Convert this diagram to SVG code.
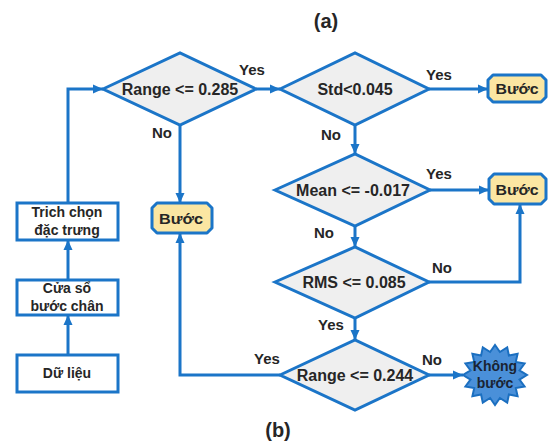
<svg xmlns="http://www.w3.org/2000/svg" width="549" height="443" viewBox="0 0 549 443">
<defs>
<marker id="ah" markerUnits="userSpaceOnUse" markerWidth="10" markerHeight="10" refX="10" refY="5" orient="auto">
<path d="M0,0.5 L10,5 L0,9.5 z" fill="#1b75c8"/>
</marker>
<style>
.t{font-family:"Liberation Sans",Arial,sans-serif;font-weight:bold;fill:#262626;text-anchor:middle}
.dt{font-size:16px}
.lb{font-size:15px}
.bx{font-size:14px}
.d{fill:#efefef;stroke:#1b75c8;stroke-width:3;stroke-linejoin:miter}
.b{fill:#ffffff;stroke:#1b75c8;stroke-width:3}
.y{fill:#fbe6a2;stroke:#1b75c8;stroke-width:3;stroke-linejoin:round}
.c{fill:none;stroke:#1b75c8;stroke-width:3;marker-end:url(#ah)}
</style>
</defs>
<rect width="549" height="443" fill="#ffffff"/>
<text class="t" x="326" y="28" style="font-size:20px">(a)</text>
<text class="t" x="278" y="437" style="font-size:20px">(b)</text>

<g id="connectors">
<path class="c" d="M256,89 H280"/>
<path class="c" d="M429,89 H488"/>
<path class="c" d="M355,125 V154"/>
<path class="c" d="M430,190 H489"/>
<path class="c" d="M355,226 V247"/>
<path class="c" d="M429,282 H520 V204"/>
<path class="c" d="M355,318 V340"/>
<path class="c" d="M429,375 H463"/>
<path class="c" d="M280,375 H180 V233"/>
<path class="c" d="M180,125 V203"/>
<path class="c" d="M68,355 V315"/>
<path class="c" d="M68,280 V240"/>
<path class="c" d="M68,203 V89 H103"/>
<text class="t lb" x="252" y="75">Yes</text>
<text class="t lb" x="162" y="138">No</text>
<text class="t lb" x="439" y="80">Yes</text>
<text class="t lb" x="331" y="140">No</text>
<text class="t lb" x="439" y="179">Yes</text>
<text class="t lb" x="324" y="238">No</text>
<text class="t lb" x="442" y="273">No</text>
<text class="t lb" x="331" y="330">Yes</text>
<text class="t lb" x="432" y="365">No</text>
<text class="t lb" x="267" y="364">Yes</text>
</g>

<g id="d1">
<polygon class="d" points="103,89 180,53 256,89 180,125"/>
<text class="t dt" x="180" y="95">Range &lt;= 0.285</text>
</g>
<g id="d2">
<polygon class="d" points="280,89 355,53 429,89 355,125"/>
<text class="t dt" x="355" y="95">Std&lt;0.045</text>
</g>
<g id="d3">
<polygon class="d" points="275,190 355,154 430,190 355,226"/>
<text class="t dt" x="353" y="196">Mean &lt;= -0.017</text>
</g>
<g id="d4">
<polygon class="d" points="275,282 355,247 429,282 355,318"/>
<text class="t dt" x="354" y="288">RMS &lt;= 0.085</text>
</g>
<g id="d5">
<polygon class="d" points="280,375 355,340 429,375 355,410"/>
<text class="t dt" x="355" y="381">Range &lt;= 0.244</text>
</g>

<g id="buoc1">
<polygon class="y" points="493,75 541,75 546,80 546,97 541,102 493,102 488,97 488,80"/>
<text class="t lb" x="517" y="94" textLength="43" lengthAdjust="spacingAndGlyphs">Bước</text>
</g>
<g id="buoc2">
<polygon class="y" points="494,174 541,174 546,179 546,199 541,204 494,204 489,199 489,179"/>
<text class="t lb" x="517" y="195" textLength="43" lengthAdjust="spacingAndGlyphs">Bước</text>
</g>
<g id="buoc0">
<polygon class="y" points="157,203 207,203 212,208 212,228 207,233 157,233 152,228 152,208"/>
<text class="t lb" x="181" y="224" textLength="44" lengthAdjust="spacingAndGlyphs">Bước</text>
</g>

<g id="trich">
<rect class="b" x="17" y="203" width="101" height="37"/>
<text class="t bx" x="67" y="217">Trich chọn</text>
<text class="t bx" x="67" y="235">đặc trưng</text>
</g>
<g id="cuaso">
<rect class="b" x="17" y="280" width="101" height="35"/>
<text class="t bx" x="67" y="293">Cửa sổ</text>
<text class="t bx" x="67" y="311">bước chân</text>
</g>
<g id="dulieu">
<rect class="b" x="17" y="355" width="101" height="37"/>
<text class="t bx" x="67" y="378">Dữ liệu</text>
</g>

<g id="khongbuoc">
<polygon fill="#4a90d9" stroke="#1b6fc0" stroke-width="2" stroke-linejoin="miter" points="527,375 519.5,379.6 524.6,386.5 515.8,388.1 517.6,396.2 508.9,394.5 507.2,402.7 499.9,398 495,405 490.1,398 482.8,402.7 481.1,394.5 472.4,396.2 474.2,388.1 465.4,386.5 470.5,379.6 463,375 470.5,370.4 465.4,363.5 474.2,361.9 472.4,353.8 481.1,355.5 482.8,347.3 490.1,352 495,345 499.9,352 507.2,347.3 508.9,355.5 517.6,353.8 515.8,361.9 524.6,363.5 519.5,370.4"/>
<text class="t" x="495" y="371" style="font-size:14px;fill:#1a2433">Không</text>
<text class="t" x="495" y="388" style="font-size:14px;fill:#1a2433">bước</text>
</g>
</svg>
